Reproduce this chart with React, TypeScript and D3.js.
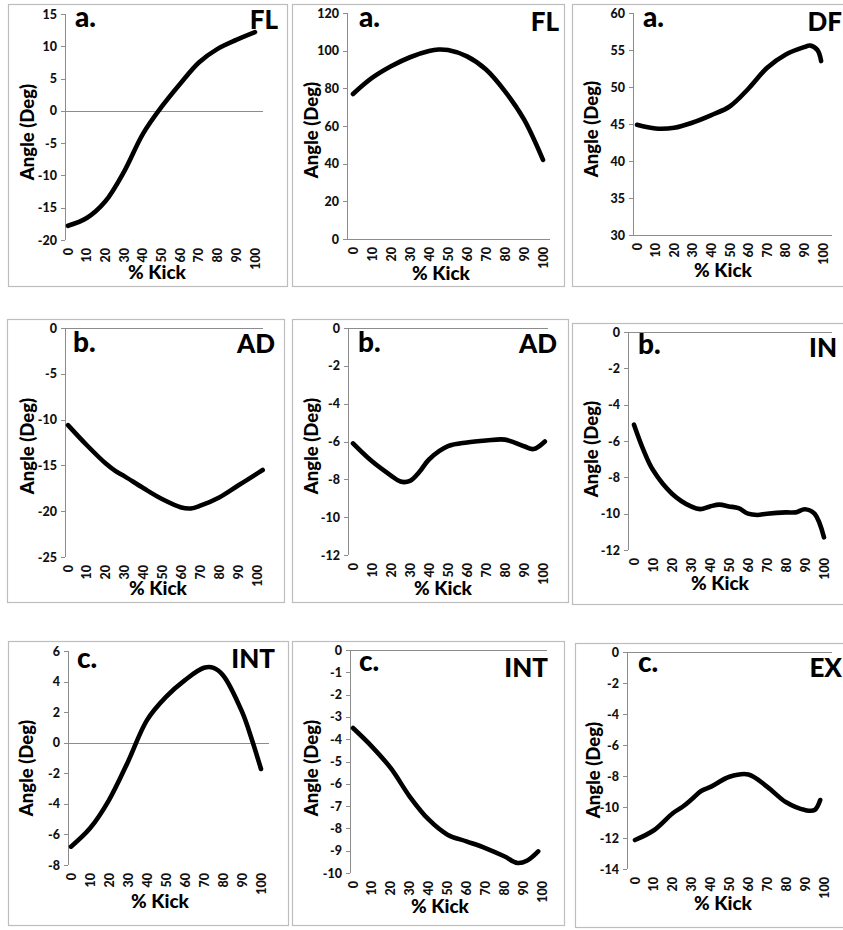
import React from 'react';
import * as d3 from 'd3';

// ---------- data ----------
const kickTicks = [0, 10, 20, 30, 40, 50, 60, 70, 80, 90, 100];

const panelLetters = ['a.', 'a.', 'a.', 'b.', 'b.', 'b.', 'c.', 'c.', 'c.'];
const motionLabels = ['FL', 'FL', 'DF', 'AD', 'AD', 'IN', 'INT', 'INT', 'EX'];

const yDomains: [number, number][] = [
  [-20, 15], [0, 120], [30, 60],
  [-25, 0], [-12, 0], [-12, 0],
  [-8, 6], [-10, 0], [-14, 0],
];
const yTickSteps = [5, 20, 5, 5, 2, 2, 2, 1, 2];

const hipFlexKick = [0, 10, 20, 30, 40, 50, 60, 70, 80, 90, 100];
const hipFlexAngle = [-17.8, -16.6, -14, -9.4, -3.6, 0.6, 4.2, 7.5, 9.6, 11, 12.2];

const kneeFlexKick = [0, 10, 20, 30, 40, 45, 50, 60, 70, 80, 90, 100];
const kneeFlexAngle = [77, 85.5, 91.7, 96.5, 99.8, 100.6, 100.3, 97, 90, 78.4, 63.5, 42];

const ankleDfKick = [0, 10, 20, 30, 40, 50, 60, 70, 80, 90, 93, 97, 99];
const ankleDfAngle = [44.9, 44.4, 44.5, 45.2, 46.2, 47.4, 49.8, 52.6, 54.4, 55.4, 55.6, 55, 53.5];

const hipAdKick = [0, 10, 20, 25, 30, 40, 50, 60, 65, 70, 80, 90, 100, 103];
const hipAdAngle = [-10.6, -12.8, -14.8, -15.6, -16.2, -17.5, -18.7, -19.6, -19.7, -19.4, -18.5, -17.2, -15.9, -15.5];

const kneeAdKick = [0, 10, 20, 25, 30, 35, 40, 50, 60, 70, 80, 90, 95, 101];
const kneeAdAngle = [-6.1, -7.05, -7.8, -8.12, -8.08, -7.6, -6.95, -6.25, -6.05, -5.95, -5.9, -6.25, -6.4, -6.0];

const ankleInKick = [0, 5, 10, 20, 30, 35, 40, 45, 50, 55, 60, 65, 70, 80, 85, 90, 95, 100];
const ankleInAngle = [-5.1, -6.5, -7.6, -8.9, -9.6, -9.75, -9.6, -9.5, -9.6, -9.7, -10.0, -10.07, -10.0, -9.93, -9.93, -9.76, -10.0, -11.3];

const hipIntKick = [0, 10, 20, 30, 40, 50, 60, 70, 75, 80, 90, 95, 100];
const hipIntAngle = [-6.8, -5.6, -3.75, -1.24, 1.48, 3.0, 4.1, 4.9, 4.9, 4.42, 2.03, 0.28, -1.72];

const kneeIntKick = [0, 10, 20, 30, 40, 50, 60, 70, 80, 87, 92, 98];
const kneeIntAngle = [-3.5, -4.33, -5.3, -6.57, -7.6, -8.28, -8.58, -8.88, -9.25, -9.55, -9.45, -9.03];

const ankleExKick = [0, 10, 20, 25, 30, 35, 40, 50, 60, 70, 80, 90, 95, 98];
const ankleExAngle = [-12.13, -11.5, -10.4, -10.0, -9.5, -8.97, -8.7, -8.05, -7.9, -8.7, -9.7, -10.2, -10.2, -9.55];

const seriesKick = [hipFlexKick, kneeFlexKick, ankleDfKick, hipAdKick, kneeAdKick, ankleInKick, hipIntKick, kneeIntKick, ankleExKick];
const seriesAngle = [hipFlexAngle, kneeFlexAngle, ankleDfAngle, hipAdAngle, kneeAdAngle, ankleInAngle, hipIntAngle, kneeIntAngle, ankleExAngle];

// ---------- layout ----------
const layout = [
  { fx: 8, fy: 4, fw: 279, fh: 282, ax: 65, top: 14, bot: 240, x0: 68, x100: 255, xEnd: 263, lx: 75, ly: 27, mx: 278, my: 29, ylx: 28, yly: 132, xlx: 157, xly: 279 },
  { fx: 292, fy: 4, fw: 272, fh: 282, ax: 347, top: 13, bot: 239, x0: 353, x100: 543, xEnd: 550, lx: 359, ly: 27, mx: 559, my: 31, ylx: 312, yly: 130, xlx: 441, xly: 280 },
  { fx: 572, fy: 4, fw: 275, fh: 282, ax: 633, top: 13, bot: 235, x0: 637, x100: 823, xEnd: 832, lx: 643, ly: 27, mx: 842, my: 31, ylx: 592, yly: 129, xlx: 723, xly: 277 },
  { fx: 7, fy: 319, fw: 277, fh: 283, ax: 65, top: 328, bot: 557, x0: 68, x100: 257, xEnd: 263, lx: 73, ly: 352, mx: 275, my: 353, ylx: 28, yly: 446, xlx: 158, xly: 595 },
  { fx: 292, fy: 319, fw: 276, fh: 283, ax: 348, top: 328, bot: 555, x0: 353, x100: 543, xEnd: 548, lx: 358, ly: 352, mx: 557, my: 353, ylx: 312, yly: 446, xlx: 443, xly: 595 },
  { fx: 572, fy: 323, fw: 275, fh: 281, ax: 628, top: 332, bot: 550, x0: 634, x100: 824, xEnd: 832, lx: 638, ly: 354, mx: 837, my: 357, ylx: 592, yly: 449, xlx: 720, xly: 590 },
  { fx: 8, fy: 641, fw: 280, fh: 284, ax: 68, top: 651, bot: 865, x0: 71, x100: 261, xEnd: 269, lx: 77, ly: 668, mx: 275, my: 668, ylx: 27, yly: 768, xlx: 160, xly: 908 },
  { fx: 292, fy: 641, fw: 272, fh: 284, ax: 350, top: 650, bot: 873, x0: 353, x100: 542, xEnd: 547, lx: 359, ly: 671, mx: 548, my: 677, ylx: 312, yly: 768, xlx: 440, xly: 913 },
  { fx: 575, fy: 643, fw: 272, fh: 284, ax: 627, top: 652, bot: 869, x0: 635, x100: 824, xEnd: 832, lx: 638, ly: 672, mx: 842, my: 677, ylx: 594, yly: 770, xlx: 723, xly: 910 },
];

const FONT = "Lato, 'Liberation Sans', Arial, sans-serif";
const AXIS = '#8c8c8c';

function Panel({ i }: { i: number }) {
  const L = layout[i];
  const [dMin, dMax] = yDomains[i];
  const y = d3.scaleLinear().domain([dMin, dMax]).range([L.bot, L.top]);
  const x = d3.scaleLinear().domain([0, 100]).range([L.x0, L.x100]);
  const ticks = d3.range(dMin, dMax + yTickSteps[i] / 2, yTickSteps[i]);
  const crossVal = dMin <= 0 && dMax >= 0 ? 0 : dMin;
  const pts = seriesKick[i].map((k, j) => [k, seriesAngle[i][j]] as [number, number]);
  const line = d3
    .line<[number, number]>()
    .x((d) => x(d[0]))
    .y((d) => y(d[1]))
    .curve(d3.curveCatmullRom.alpha(0.5));
  return (
    <g>
      <rect x={L.fx + 0.5} y={L.fy + 0.5} width={L.fw} height={L.fh} fill="#fff" stroke="#bdbdbd" strokeWidth={1.2} />
      {/* y axis */}
      <line x1={L.ax + 0.5} x2={L.ax + 0.5} y1={L.top} y2={L.bot} stroke={AXIS} strokeWidth={1} />
      {ticks.map((t) => (
        <g key={t}>
          <line x1={L.ax - 4} x2={L.ax} y1={Math.round(y(t)) + 0.5} y2={Math.round(y(t)) + 0.5} stroke={AXIS} strokeWidth={1} />
          <text x={L.ax - 8} y={y(t)} dy="0.36em" textAnchor="end" fontFamily={FONT} fontWeight={900} fontSize={12.5} fill="#111">
            {t}
          </text>
        </g>
      ))}
      {/* horizontal axis line */}
      <line x1={L.ax} x2={L.xEnd} y1={Math.round(y(crossVal)) + 0.5} y2={Math.round(y(crossVal)) + 0.5} stroke={AXIS} strokeWidth={1} />
      {/* x tick labels */}
      {kickTicks.map((k) => (
        <text
          key={k}
          transform={`translate(${x(k)},${L.bot + 8}) rotate(-90)`}
          dy="0.36em"
          textAnchor="end"
          fontFamily={FONT}
          fontWeight={900}
          fontSize={12.5}
          fill="#111"
        >
          {k}
        </text>
      ))}
      {/* data line */}
      <path d={line(pts) || ''} fill="none" stroke="#000" strokeWidth={4.6} strokeLinecap="round" strokeLinejoin="round" />
      {/* labels */}
      <text x={L.lx} y={L.ly} fontFamily={FONT} fontWeight={900} fontSize={28} fill="#000">
        {panelLetters[i]}
      </text>
      <text x={L.mx} y={L.my} textAnchor="end" fontFamily={FONT} fontWeight={900} fontSize={26} fill="#000">
        {motionLabels[i]}
      </text>
      <text
        transform={`translate(${L.ylx},${L.yly}) rotate(-90)`}
        textAnchor="middle"
        dy="0.35em"
        fontFamily={FONT}
        fontWeight={900}
        fontSize={18.5}
        fill="#000"
      >
        Angle (Deg)
      </text>
      <text x={L.xlx} y={L.xly} textAnchor="middle" fontFamily={FONT} fontWeight={900} fontSize={19} fill="#000">
        % Kick
      </text>
    </g>
  );
}

export default function App() {
  return (
    <div style={{ position: 'absolute', left: 0, top: 0 }}>
      <svg width={843} height={930} viewBox="0 0 843 930" style={{ display: 'block', background: '#fff' }}>
        <rect width={843} height={930} fill="#fff" />
        {layout.map((_, i) => (
          <Panel key={i} i={i} />
        ))}
      </svg>
    </div>
  );
}
